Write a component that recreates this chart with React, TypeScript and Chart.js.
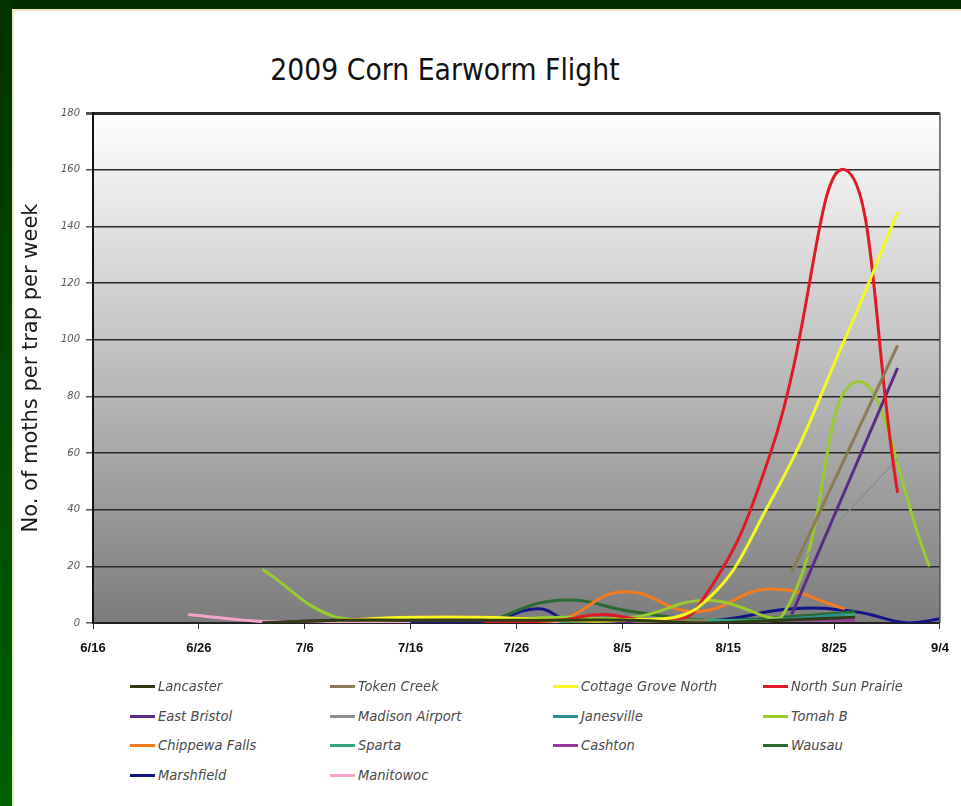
import React, { useEffect, useRef } from "react";
import Chart from "chart.js/auto";

// ---------- DATA ----------
const chartTitle = "2009 Corn Earworm Flight";
const yAxisTitle = "No. of moths per trap per week";
const xTickLabels = ["6/16", "6/26", "7/6", "7/16", "7/26", "8/5", "8/15", "8/25", "9/4"];
const yMin = 0;
const yMax = 180;
const yStep = 20;

const seriesNames = [
  "Lancaster", "Token Creek", "Cottage Grove North", "North Sun Prairie",
  "East Bristol", "Madison Airport", "Janesville", "Tomah B",
  "Chippewa Falls", "Sparta", "Cashton", "Wausau",
  "Marshfield", "Manitowoc",
];
const seriesColors = [
  "#323c14", "#8b7b56", "#f7f722", "#e01a24",
  "#5a2a86", "#8c8c8c", "#2b8f90", "#9acb2e",
  "#f47a1e", "#3aa57a", "#9a3a9a", "#2a6a30",
  "#14148a", "#f4a4c8",
];

const lancasterDates = ["7/2", "7/9", "7/16", "7/23", "7/30", "8/6", "8/13", "8/20", "8/27"];
const lancasterValues = [0, 1, 1, 1, 1, 1, 0, 1, 2];

const tokenCreekDates = ["8/6", "8/13", "8/19", "8/21", "8/31"];
const tokenCreekValues = [0, 1, null, 18, 98];

const cottageGroveDates = ["7/9", "7/16", "7/23", "7/30", "8/5", "8/12", "8/19", "8/26", "8/31"];
const cottageGroveValues = [1, 2, 2, 1, 1, 5, 43, 100, 145];

const sunPrairieDates = ["7/23", "7/30", "8/3", "8/8", "8/12", "8/19", "8/26", "8/31"];
const sunPrairieValues = [0, 1, 3, 1, 5, 60, 160, 46];

const eastBristolDates = ["7/2", "7/9", "7/16", "7/23", "7/30", "8/6", "8/13", "8/18", "8/21", "8/31"];
const eastBristolValues = [0, 1, 1, 1, 1, 0, 0, null, 3, 90];

const madisonDates = ["8/6", "8/13", "8/19", "8/21", "8/31"];
const madisonValues = [0, 0, null, 18, 58];

const janesvilleDates = ["8/5", "8/12", "8/19", "8/26"];
const janesvilleValues = [0, 0, 1, 3];

const tomahDates = ["7/2", "7/9", "7/16", "7/23", "7/30", "8/6", "8/13", "8/20", "8/27", "9/3"];
const tomahValues = [19, 2, 1, 1, 2, 2, 8, 2, 85, 20];

const chippewaDates = ["7/23", "7/30", "8/5", "8/12", "8/19", "8/26"];
const chippewaValues = [0, 1, 11, 4, 12, 5];

const spartaDates = ["7/30", "8/6", "8/13", "8/20", "8/27"];
const spartaValues = [0, 1, 1, 1, 3];

const cashtonDates = ["7/2", "7/9", "7/16", "7/23", "7/30", "8/6", "8/13", "8/20", "8/27"];
const cashtonValues = [0, 1, 2, 2, 1, 1, 0, 1, 1];

const wausauDates = ["7/23", "7/30", "8/6", "8/13", "8/20", "8/27"];
const wausauValues = [0, 8, 4, 1, 2, 4];

const marshfieldDates = ["7/16", "7/23", "7/28", "7/31", "8/7", "8/14", "8/21", "8/27", "9/1", "9/4"];
const marshfieldValues = [0, 0, 5, 1, 1, 1, 5, 4, 0, 1.5];

const manitowocDates = ["6/25", "7/2", "7/9", "7/16", "7/23", "7/30", "8/6", "8/13", "8/20", "8/27"];
const manitowocValues = [3, 0.5, 0, 0, 0, 0, 0, 0, 1, 2];

const seriesDates = [
  lancasterDates, tokenCreekDates, cottageGroveDates, sunPrairieDates,
  eastBristolDates, madisonDates, janesvilleDates, tomahDates,
  chippewaDates, spartaDates, cashtonDates, wausauDates,
  marshfieldDates, manitowocDates,
];
const seriesValues = [
  lancasterValues, tokenCreekValues, cottageGroveValues, sunPrairieValues,
  eastBristolValues, madisonValues, janesvilleValues, tomahValues,
  chippewaValues, spartaValues, cashtonValues, wausauValues,
  marshfieldValues, manitowocValues,
];

// days since 6/16
function dayOf(s: string): number {
  const [m, d] = s.split("/").map(Number);
  const base: Record<number, number> = { 6: 0, 7: 30, 8: 61, 9: 92 };
  return base[m] + d - 16;
}

const plotBackground = {
  id: "plotBackground",
  beforeDraw(chart: any) {
    const { ctx, chartArea } = chart;
    if (!chartArea) return;
    const g = ctx.createLinearGradient(0, chartArea.top, 0, chartArea.bottom);
    g.addColorStop(0, "#ffffff");
    g.addColorStop(0.5, "#bdbdbd");
    g.addColorStop(1, "#7c7c7c");
    ctx.save();
    ctx.fillStyle = g;
    ctx.fillRect(chartArea.left, chartArea.top, chartArea.right - chartArea.left, chartArea.bottom - chartArea.top);
    ctx.restore();
  },
  afterDraw(chart: any) {
    const { ctx, chartArea } = chart;
    ctx.save();
    ctx.strokeStyle = "#555";
    ctx.lineWidth = 1.5;
    ctx.beginPath();
    ctx.moveTo(chartArea.right, chartArea.top);
    ctx.lineTo(chartArea.right, chartArea.bottom);
    ctx.stroke();
    ctx.restore();
  },
};

export default function App() {
  const canvasRef = useRef<HTMLCanvasElement | null>(null);

  useEffect(() => {
    if (!canvasRef.current) return;
    const datasets = seriesNames.map((name, i) => ({
      label: name,
      data: seriesDates[i].map((d, j) => ({ x: dayOf(d), y: seriesValues[i][j] })),
      borderColor: seriesColors[i],
      backgroundColor: seriesColors[i],
      borderWidth: name === "Madison Airport" ? 1.3 : 3,
      pointRadius: 0,
      tension: 0.45,
      spanGaps: false,
      fill: false,
    }));
    const chart = new Chart(canvasRef.current, {
      type: "line",
      data: { datasets },
      plugins: [plotBackground],
      options: {
        animation: false,
        responsive: false,
        maintainAspectRatio: false,
        layout: { padding: { top: 113, right: 19, bottom: 17, left: 14 } },
        plugins: {
          legend: { display: false },
          tooltip: { enabled: false },
          title: { display: false },
        },
        scales: {
          x: {
            type: "linear",
            min: 0,
            max: 80,
            afterFit: (s: any) => { s.height = 40; },
            ticks: {
              stepSize: 10,
              autoSkip: false,
              maxRotation: 0,
              padding: 12,
              color: "#111",
              font: { family: "Liberation Sans", size: 13, weight: "bold" },
              callback: (_v: any, i: number) => xTickLabels[i],
            },
            grid: { drawOnChartArea: false, drawTicks: true, tickLength: 6, color: "#333" },
            border: { display: true, color: "#222", width: 2 },
          },
          y: {
            min: yMin,
            max: yMax,
            afterFit: (s: any) => { s.width = 79; },
            ticks: {
              stepSize: yStep,
              padding: 6,
              color: "#555",
              font: { family: "DejaVu Sans", size: 10, style: "italic" },
            },
            grid: {
              color: "#2a2a2a",
              lineWidth: (c: any) => (c.tick && c.tick.value === yMax ? 3 : 1.5),
              drawTicks: true,
              tickLength: 7,
              tickColor: "#555",
            },
            border: { display: true, color: "#111", width: 2 },
            title: {
              display: true,
              text: yAxisTitle,
              color: "#1a1a1a",
              font: { family: "DejaVu Sans", size: 21 },
              padding: { top: 5, bottom: 0 },
            },
          },
        },
      },
    });
    return () => chart.destroy();
  }, []);

  const legendRows = [686, 716, 745, 775];
  const legendCols = [158, 358, 581, 791];

  return (
    <div style={{ position: "fixed", left: 0, top: 0, width: 961, height: 806, background: "#002a00", overflow: "hidden" }}>
      <div style={{ position: "absolute", left: 0, top: 0, width: 12, height: 806, background: "linear-gradient(#003300, #006000)" }} />
      <div style={{ position: "absolute", left: 12, top: 9, width: 949, height: 797, background: "#ffffff", borderLeft: "2px solid #f3e6b8", borderTop: "2px solid #f3e6b8", boxSizing: "border-box" }} />
      <div style={{ position: "absolute", left: 195, top: 52, width: 500, textAlign: "center", fontFamily: "'DejaVu Sans'", fontSize: 30, color: "#111", transform: "scaleX(0.89)", whiteSpace: "nowrap" }}>
        {chartTitle}
      </div>
      <canvas ref={canvasRef} width={961} height={680} style={{ position: "absolute", left: 0, top: 0, width: 961, height: 680 }} />
      {seriesNames.map((name, i) => {
        const r = Math.floor(i / 4);
        const c = i % 4;
        const left = legendCols[c];
        const top = legendRows[r];
        return (
          <div key={name} style={{ position: "absolute", left: left - 28, top: top - 9, height: 18, display: "flex", alignItems: "center", whiteSpace: "nowrap" }}>
            <span style={{ display: "inline-block", width: 25, height: 3, background: seriesColors[i], marginRight: 3 }} />
            <span style={{ fontFamily: "'DejaVu Sans'", fontStyle: "italic", fontSize: 13.5, color: "#4a4a4a", transform: "scaleX(0.97)", transformOrigin: "left center", display: "inline-block" }}>{name}</span>
          </div>
        );
      })}
    </div>
  );
}
